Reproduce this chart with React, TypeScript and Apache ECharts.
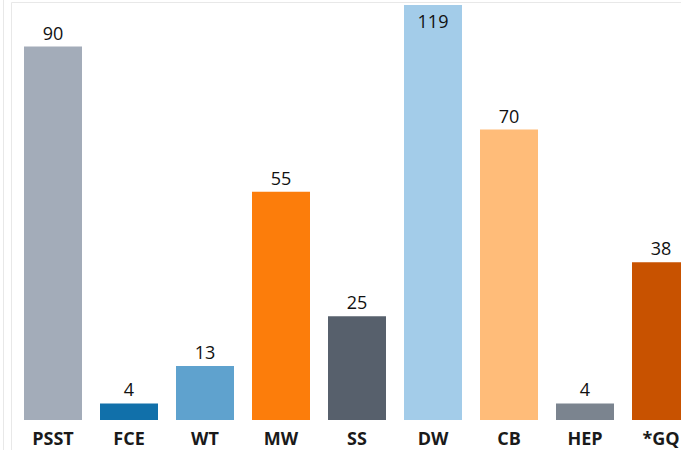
import React, { useEffect, useRef } from "react";
import * as echarts from "echarts";

const categories = ["PSST", "FCE", "WT", "MW", "SS", "DW", "CB", "HEP", "*GQ"];
const values = [90, 4, 13, 55, 25, 119, 70, 4, 38];
const colors = ["#a3acb9", "#1170aa", "#5fa2ce", "#fc7d0b", "#57606c", "#a3cce9", "#ffbc79", "#7b848f", "#c85200"];
const clippedCategory = "DW";

export default function App() {
  const ref = useRef<HTMLDivElement>(null);
  useEffect(() => {
    if (!ref.current) return;
    const chart = echarts.init(ref.current, null, { renderer: "svg" });
    const font = "'Open Sans', 'Noto Sans', sans-serif";
    chart.setOption({
      animation: false,
      grid: { left: 15, top: 5, width: 684, bottom: 30, containLabel: false },
      xAxis: {
        type: "category",
        data: categories,
        axisLine: { show: false },
        axisTick: { show: false },
        axisLabel: { fontFamily: font, fontSize: 18, fontWeight: "bold", color: "#1a1a1a", margin: 9 },
      },
      yAxis: { type: "value", min: 0, max: 100, show: false, splitLine: { show: false } },
      series: [
        {
          type: "bar",
          barWidth: 58,
          clip: true,
          data: values.map((v, i) => ({
            value: v,
            itemStyle: { color: colors[i] },
            label:
              categories[i] === clippedCategory
                ? { position: "insideTop", distance: 7 }
                : undefined,
          })),
          label: {
            show: true,
            position: "top",
            distance: 5,
            fontFamily: font,
            fontSize: 18,
            color: "#111",
          },
        },
      ],
      graphic: [
        { type: "line", shape: { x1: 3.5, y1: 0, x2: 3.5, y2: 450 }, style: { stroke: "#e8e8e8", lineWidth: 1 } },
        { type: "line", shape: { x1: 11.5, y1: 2.5, x2: 11.5, y2: 450 }, style: { stroke: "#e8e8e8", lineWidth: 1 } },
        { type: "line", shape: { x1: 11.5, y1: 2.5, x2: 700, y2: 2.5 }, style: { stroke: "#e8e8e8", lineWidth: 1 } },
      ],
    });
    return () => chart.dispose();
  }, []);
  return (
    <div style={{ position: "fixed", left: 0, top: 0, width: 681, height: 450, overflow: "hidden", background: "#fff" }}>
      <div ref={ref} style={{ width: 700, height: 450 }} />
    </div>
  );
}
